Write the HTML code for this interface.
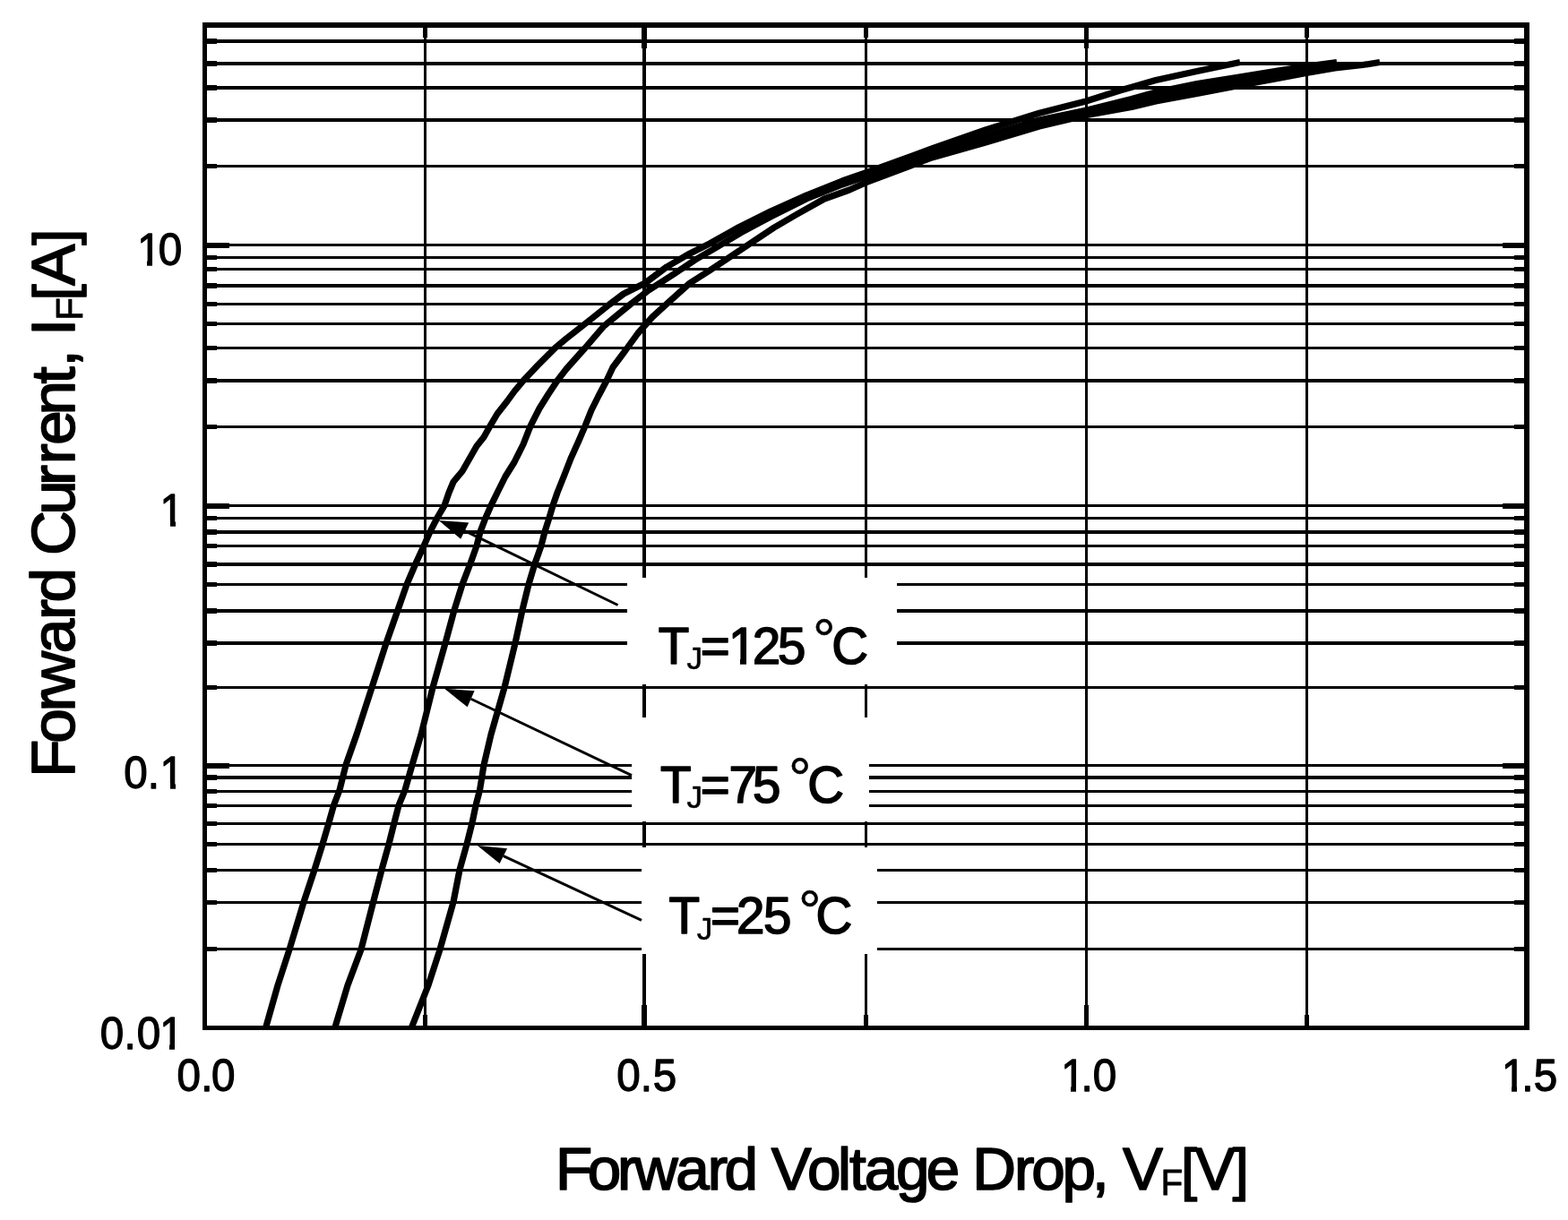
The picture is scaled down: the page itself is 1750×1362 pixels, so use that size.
<!DOCTYPE html>
<html lang="en"><head><meta charset="utf-8"><title>Forward Current vs Forward Voltage Drop</title>
<style>html,body{margin:0;padding:0;background:#fff}body{width:1750px;height:1362px;overflow:hidden}svg{display:block}text{font-family:"Liberation Sans", sans-serif;fill:#000;stroke:#000;stroke-linejoin:round}</style></head><body>
<svg width="1750" height="1362" viewBox="0 0 1750 1362" role="img" aria-label="Forward current versus forward voltage drop">
<rect width="1750" height="1362" fill="#fff"/>
<g id="grid" shape-rendering="crispEdges" fill="#000">
<rect x="231" y="44" width="1470" height="4"/>
<rect x="231" y="69" width="1470" height="4"/>
<rect x="231" y="96" width="1470" height="4"/>
<rect x="231" y="132" width="1470" height="4"/>
<rect x="231" y="184" width="1470" height="3"/>
<rect x="231" y="272" width="1470" height="3"/>
<rect x="231" y="286" width="1470" height="3"/>
<rect x="231" y="299" width="1470" height="3"/>
<rect x="231" y="317" width="1470" height="4"/>
<rect x="231" y="338" width="1470" height="3"/>
<rect x="231" y="360" width="1470" height="3"/>
<rect x="231" y="387" width="1470" height="3"/>
<rect x="231" y="423" width="1470" height="4"/>
<rect x="231" y="475" width="1470" height="3"/>
<rect x="231" y="563" width="1470" height="3"/>
<rect x="231" y="577" width="1470" height="3"/>
<rect x="231" y="592" width="1470" height="4"/>
<rect x="231" y="608" width="1470" height="3"/>
<rect x="231" y="628" width="1470" height="4"/>
<rect x="231" y="651" width="1470" height="3"/>
<rect x="231" y="680" width="1470" height="4"/>
<rect x="231" y="716" width="1470" height="4"/>
<rect x="231" y="766" width="1470" height="3"/>
<rect x="231" y="853" width="1470" height="3"/>
<rect x="231" y="866" width="1470" height="4"/>
<rect x="231" y="882" width="1470" height="3"/>
<rect x="231" y="898" width="1470" height="3"/>
<rect x="231" y="918" width="1470" height="3"/>
<rect x="231" y="941" width="1470" height="3"/>
<rect x="231" y="970" width="1470" height="3"/>
<rect x="231" y="1006" width="1470" height="3"/>
<rect x="231" y="1058" width="1470" height="3"/>
<rect x="473" y="31" width="3" height="1114"/>
<rect x="717" y="31" width="4" height="1114"/>
<rect x="965" y="31" width="3" height="1114"/>
<rect x="1211" y="31" width="3" height="1114"/>
<rect x="1457" y="31" width="3" height="1114"/>
</g>
<g id="boxes" shape-rendering="crispEdges" fill="#fff">
<rect x="700" y="645" width="301" height="119"/>
<rect x="705" y="801" width="265" height="116"/>
<rect x="716" y="946" width="263" height="119"/>
</g>
<g id="ticks" shape-rendering="crispEdges" fill="#000">
<rect x="231" y="43" width="11" height="6"/>
<rect x="1690" y="43" width="11" height="6"/>
<rect x="231" y="68" width="11" height="6"/>
<rect x="1690" y="68" width="11" height="6"/>
<rect x="231" y="95" width="11" height="6"/>
<rect x="1690" y="95" width="11" height="6"/>
<rect x="231" y="131" width="11" height="6"/>
<rect x="1690" y="131" width="11" height="6"/>
<rect x="231" y="183" width="11" height="5"/>
<rect x="1690" y="183" width="11" height="5"/>
<rect x="231" y="271" width="24.5" height="6"/>
<rect x="1676.5" y="271" width="24.5" height="6"/>
<rect x="231" y="285" width="11" height="5"/>
<rect x="1690" y="285" width="11" height="5"/>
<rect x="231" y="298" width="11" height="5"/>
<rect x="1690" y="298" width="11" height="5"/>
<rect x="231" y="316" width="11" height="6"/>
<rect x="1690" y="316" width="11" height="6"/>
<rect x="231" y="337" width="11" height="5"/>
<rect x="1690" y="337" width="11" height="5"/>
<rect x="231" y="359" width="11" height="5"/>
<rect x="1690" y="359" width="11" height="5"/>
<rect x="231" y="386" width="11" height="5"/>
<rect x="1690" y="386" width="11" height="5"/>
<rect x="231" y="422" width="11" height="6"/>
<rect x="1690" y="422" width="11" height="6"/>
<rect x="231" y="474" width="11" height="5"/>
<rect x="1690" y="474" width="11" height="5"/>
<rect x="231" y="562" width="24.5" height="6"/>
<rect x="1676.5" y="562" width="24.5" height="6"/>
<rect x="231" y="576" width="11" height="5"/>
<rect x="1690" y="576" width="11" height="5"/>
<rect x="231" y="591" width="11" height="6"/>
<rect x="1690" y="591" width="11" height="6"/>
<rect x="231" y="607" width="11" height="5"/>
<rect x="1690" y="607" width="11" height="5"/>
<rect x="231" y="627" width="11" height="6"/>
<rect x="1690" y="627" width="11" height="6"/>
<rect x="231" y="650" width="11" height="5"/>
<rect x="1690" y="650" width="11" height="5"/>
<rect x="231" y="679" width="11" height="6"/>
<rect x="1690" y="679" width="11" height="6"/>
<rect x="231" y="715" width="11" height="6"/>
<rect x="1690" y="715" width="11" height="6"/>
<rect x="231" y="765" width="11" height="5"/>
<rect x="1690" y="765" width="11" height="5"/>
<rect x="231" y="852" width="24.5" height="6"/>
<rect x="1676.5" y="852" width="24.5" height="6"/>
<rect x="231" y="865" width="11" height="6"/>
<rect x="1690" y="865" width="11" height="6"/>
<rect x="231" y="881" width="11" height="5"/>
<rect x="1690" y="881" width="11" height="5"/>
<rect x="231" y="897" width="11" height="5"/>
<rect x="1690" y="897" width="11" height="5"/>
<rect x="231" y="917" width="11" height="5"/>
<rect x="1690" y="917" width="11" height="5"/>
<rect x="231" y="940" width="11" height="5"/>
<rect x="1690" y="940" width="11" height="5"/>
<rect x="231" y="969" width="11" height="5"/>
<rect x="1690" y="969" width="11" height="5"/>
<rect x="231" y="1005" width="11" height="5"/>
<rect x="1690" y="1005" width="11" height="5"/>
<rect x="231" y="1057" width="11" height="5"/>
<rect x="1690" y="1057" width="11" height="5"/>
<rect x="472" y="31" width="5" height="10.5"/>
<rect x="472" y="1132.5" width="5" height="12.5"/>
<rect x="716" y="31" width="6" height="23"/>
<rect x="716" y="1122" width="6" height="23"/>
<rect x="964" y="31" width="5" height="10.5"/>
<rect x="964" y="1132.5" width="5" height="12.5"/>
<rect x="1210" y="31" width="5" height="23"/>
<rect x="1210" y="1122" width="5" height="23"/>
<rect x="1456" y="31" width="5" height="10.5"/>
<rect x="1456" y="1132.5" width="5" height="12.5"/>
</g>
<g id="frame" shape-rendering="crispEdges" fill="#000">
<rect x="226" y="25" width="1481" height="6"/>
<rect x="226" y="1145" width="1481" height="5"/>
<rect x="226" y="25" width="5" height="1125"/>
<rect x="1701" y="25" width="6" height="1125"/>
</g>
<g id="curves" fill="none" stroke="#000" stroke-width="7.2" stroke-linejoin="round" stroke-linecap="butt">
<polyline points="296.4,1148 310,1100 323,1060 339,1007 351,971 360,942.4 367,918.4 372.4,899.2 379,882 386,854 398,820 415,767.6 431,718 444,681 454,652.4 464,629 473,609.4 480,593.6 488,578 496,564.4 501,550 506,538 516,526 524,512 532,498 540,488 547,475.6 555,462 566,448 574,437 584,425 600,408 614,394 620,388 632,378 646,367 660,356 680,340 696,328 720,316 744,298 768,284 792,272 824,254 860,236 900,218 940,202 966,193 1040,166 1100,145 1160,126.3 1212,113 1250,101 1290,89.5 1336,79.5 1384,69.5"/>
<polyline points="373.6,1148 388,1100 403,1060 416.6,1007 426,971 434,942.4 440,918.4 445,899.2 452,882 460,854 470,820 483,767.6 497,718 507,681 516,652.4 525,629 532,609.4 536,593.6 542,578 548,564.4 556,548 564,532 574,516 584,496 592,475.6 602,456 612,440 622,425 632,412 648,394 653,388.5 674,364 704,339.4 724,324 752,306 776,290 800,276 830,258 860,242 900,222 940,206 966,197 1040,171 1100,152 1160,134 1213,123 1263,110.5 1290,103 1336,93.5 1383,86 1429,78.5 1458,74 1492,69.5"/>
<polyline points="459,1148 478,1100 491,1060 506,1007 513,971 521,942.4 527,918.4 531,899.2 535.5,882 540,854 548,820 563,767.6 575,718 583,681 590,652.4 597,629 604,609.4 608,593.6 613,578 617,564.4 622,550 630,530 637,512 646,492 653,475.6 660,458 668,442 677,425 684,410 696,394 700,388.5 712,372 728,354 744,339.4 770,316 792,302 816,286 840,270 864,254 888,240 920,222 948,212 966,204 1040,176 1100,159 1160,141 1213,128.5 1263,119.5 1290,113 1336,104.5 1383,95.5 1429,87 1458,81.5 1490,76 1521,72.5 1540,69.5"/>
<polyline points="1160,137.5 1213,125.8 1263,115 1290,108 1336,99 1383,90.8 1429,82.8 1458,77.8 1492,73"/>
</g>
<g id="arrows">
<line x1="518.7" y1="592.55" x2="689.6" y2="675.5" stroke="#000" stroke-width="3"/><polygon points="489.7,580.9 523.2,583.4 514.2,601.7" fill="#000"/>
<line x1="525.6" y1="780.25" x2="705" y2="865.6" stroke="#000" stroke-width="3"/><polygon points="496,768.8 529.6,771.2 521.6,789.3" fill="#000"/>
<line x1="561.85" y1="955.6" x2="716" y2="1027.4" stroke="#000" stroke-width="3"/><polygon points="532.8,944 566.1,947.2 557.6,964" fill="#000"/>
</g>
<g id="labels">
<text transform="scale(0.94 1)" x="163 188.1" y="296.1" font-size="50.6" stroke-width="1.3">10</text>
<text transform="scale(0.94 1)" x="190" y="587" font-size="50.6" stroke-width="1.3">1</text>
<text transform="scale(0.94 1)" x="147 175.3 190" y="880" font-size="50.6" stroke-width="1.3">0.1</text>
<text transform="scale(0.94 1)" x="118.9 147.3 162.6 189.7" y="1171" font-size="50.6" stroke-width="1.3">0.01</text>
<text transform="scale(0.94 1)" x="210.1 238.7 251.1" y="1218" font-size="50.6" stroke-width="1.3">0.0</text>
<text transform="scale(0.94 1)" x="732.1 760.5 775.3" y="1218" font-size="50.6" stroke-width="1.3">0.5</text>
<text transform="scale(0.94 1)" x="1259.8 1283.4 1297.6" y="1218" font-size="50.6" stroke-width="1.3">1.0</text>
<text transform="scale(0.94 1)" x="1783 1806.6 1820.9" y="1218" font-size="50.6" stroke-width="1.3">1.5</text>
<text y="1327.8" font-size="67.4" stroke-width="1.7"><tspan x="620 655.7 689.1 707.9 754.2 789.7 808.6 842.3 860.8 901 935 948 964.7 1000.1 1033.8 1067.6 1085.2 1132 1151.3 1185.5 1218.9 1235.7 1253">Forward Voltage Drop, V</tspan><tspan x="1295.6" y="1334" font-size="40.5" stroke-width="0.8">F</tspan><tspan x="1318.1" y="1327.6" font-size="64.8">[</tspan><tspan x="1333.7" y="1327.8">V</tspan><tspan x="1375.7" y="1327.6" font-size="64.8">]</tspan></text>
<text transform="translate(82.8 861.9) rotate(-90)" y="0" font-size="69.2" stroke-width="1.7"><tspan x="-5.8 32.2 67.3 84.8 132.6 170 189.3 223.9 242 287.1 320 343.7 365.2 398.4 433.5 452.3 469.6 487">Forward Current, I</tspan><tspan x="504.1" y="9" font-size="42" stroke-width="0.8">F</tspan><tspan x="526.3" y="-0.2" font-size="65">[</tspan><tspan x="543.1" y="0">A</tspan><tspan x="588.1" y="-0.2" font-size="65">]</tspan></text>
<text y="740.8" font-size="56.5" stroke-width="1.6"><tspan x="734.7">T</tspan><tspan x="766.5" y="747.4" font-size="35" stroke-width="0.6">J</tspan><tspan x="781.8 813 839.7 868" y="740.8">=125</tspan><tspan x="0"> </tspan><tspan x="906.9" y="736.4" font-size="64" stroke-width="0.5">°</tspan><tspan x="928.2" y="740.8">C</tspan></text>
<text y="895.8" font-size="56.5" stroke-width="1.6"><tspan x="737.1">T</tspan><tspan x="766.5" y="902.4" font-size="35" stroke-width="0.6">J</tspan><tspan x="781.8 813.4 840.1" y="895.8">=75</tspan><tspan x="0"> </tspan><tspan x="880" y="891.4" font-size="64" stroke-width="0.5">°</tspan><tspan x="901.3" y="895.8">C</tspan></text>
<text y="1042" font-size="56.5" stroke-width="1.6"><tspan x="746.4">T</tspan><tspan x="777.8" y="1049.2" font-size="35" stroke-width="0.6">J</tspan><tspan x="793 822 851.9" y="1042">=25</tspan><tspan x="0"> </tspan><tspan x="890.9" y="1038.6" font-size="64" stroke-width="0.5">°</tspan><tspan x="910.4" y="1042">C</tspan></text>
</g>
<g id="digit-trim" fill="#fff" shape-rendering="crispEdges">
<rect x="155" y="290" width="9" height="8"/>
<rect x="170" y="290" width="9" height="8"/>
<rect x="180" y="581" width="10" height="8"/>
<rect x="196" y="581" width="9" height="8"/>
<rect x="180" y="874" width="10" height="8"/>
<rect x="196" y="874" width="9" height="8"/>
<rect x="180" y="1165" width="9" height="8"/>
<rect x="195" y="1165" width="10" height="8"/>
<rect x="1186" y="1212" width="9" height="8"/>
<rect x="1201" y="1212" width="8" height="8"/>
<rect x="1678" y="1212" width="9" height="8"/>
<rect x="1693" y="1212" width="8" height="8"/>
<rect x="815" y="734" width="11" height="9"/>
<rect x="833" y="734" width="9" height="9"/>
</g>
</svg></body></html>
